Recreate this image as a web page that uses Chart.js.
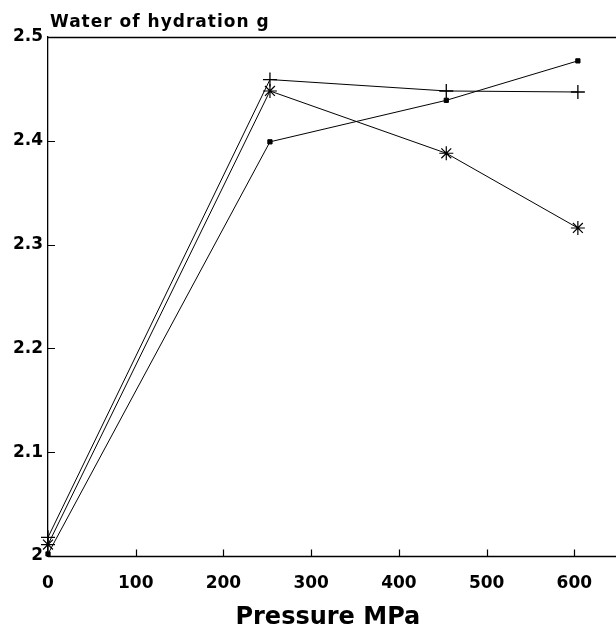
<!DOCTYPE html>
<html>
<head>
<meta charset="utf-8">
<script src="https://cdn.jsdelivr.net/npm/chart.js@4.4.1/dist/chart.umd.min.js"></script>
<style>
  html, body { margin: 0; padding: 0; background: #fff; }
  #wrap { width: 616px; height: 634px; }
</style>
</head>
<body>
<div id="wrap"><canvas id="hydrationChart" width="616" height="634"></canvas></div>
<script>
// Data
const pressure = [0, 253, 454, 604];          // MPa
const seriesCross = [2.018, 2.459, 2.448, 2.447]; // '+' markers
const seriesStar = [2.011, 2.448, 2.388, 2.316];  // asterisk markers
const seriesSquare = [2.002, 2.399, 2.439, 2.477]; // small square markers

const xTicks = [0, 100, 200, 300, 400, 500, 600];
const yTicks = [2, 2.1, 2.2, 2.3, 2.4, 2.5];

const FONT = 'DejaVu Sans';

function toPoints(xs, ys) {
    return xs.map((x, i) => ({ x: x, y: ys[i] }));
}

// inner tick marks, frame lines running to the canvas edge, y axis caption
const frameTicks = {
    id: 'frameTicks',
    beforeDatasetsDraw(chart) {
        const ctx = chart.ctx;
        const area = chart.chartArea;
        const xs = chart.scales.x;
        const ys = chart.scales.y;
        ctx.save();
        ctx.strokeStyle = '#000';
        ctx.lineWidth = 1.3;
        ctx.beginPath();
        const yTop = Math.round(ys.getPixelForValue(2.5)) + 0.5;
        ctx.moveTo(area.left, yTop);
        ctx.lineTo(chart.width, yTop);
        const yBot = Math.round(ys.getPixelForValue(2)) + 0.5;
        ctx.moveTo(area.left, yBot);
        ctx.lineTo(chart.width, yBot);
        ctx.stroke();

        ctx.lineWidth = 1.2;
        ctx.beginPath();
        xTicks.forEach(v => {
            if (v === 0) return;
            const px = Math.round(xs.getPixelForValue(v)) + 0.5;
            ctx.moveTo(px, yBot);
            ctx.lineTo(px, yBot - 7);
        });
        yTicks.forEach(v => {
            if (v === 2 || v === 2.5) return;
            const py = Math.round(ys.getPixelForValue(v)) + 0.5;
            ctx.moveTo(area.left, py);
            ctx.lineTo(area.left + 7, py);
        });
        ctx.stroke();

        ctx.fillStyle = '#000';
        ctx.font = 'bold 17px "' + FONT + '"';
        ctx.letterSpacing = '1px';
        ctx.textBaseline = 'alphabetic';
        ctx.textAlign = 'left';
        ctx.fillText('Water of hydration g', area.left + 2, area.top - 10);
        ctx.restore();
    }
};

const lineStyle = {
    borderColor: '#000',
    backgroundColor: '#000',
    pointBorderColor: '#000',
    pointBackgroundColor: '#000',
    borderWidth: 1,
    tension: 0,
    fill: false,
    clip: false
};

new Chart(document.getElementById('hydrationChart'), {
    type: 'line',
    data: {
        datasets: [
            Object.assign({
                label: 'cross',
                data: toPoints(pressure, seriesCross),
                pointStyle: 'cross',
                pointRadius: 7,
                pointBorderWidth: 1.3
            }, lineStyle),
            Object.assign({
                label: 'star',
                data: toPoints(pressure, seriesStar),
                pointStyle: 'star',
                pointRadius: 7,
                pointBorderWidth: 1.2
            }, lineStyle),
            Object.assign({
                label: 'square',
                data: toPoints(pressure, seriesSquare),
                pointStyle: 'rect',
                pointRadius: 3,
                pointBorderWidth: 1
            }, lineStyle)
        ]
    },
    options: {
        responsive: false,
        animation: false,
        devicePixelRatio: 1,
        layout: { padding: { top: 37, left: 0, right: 0, bottom: 0 } },
        plugins: {
            legend: { display: false },
            tooltip: { enabled: false }
        },
        scales: {
            x: {
                type: 'linear',
                min: 0,
                max: 638,
                afterFit: s => { s.height = 78; s.paddingLeft = 0; s.paddingRight = 0; },
                afterBuildTicks: s => { s.ticks = xTicks.map(v => ({ value: v })); },
                ticks: {
                    includeBounds: false,
                    color: '#000',
                    padding: 17,
                    maxRotation: 0,
                    font: { family: FONT, weight: 'bold', size: 17 }
                },
                grid: { display: false, drawTicks: false },
                border: { display: false },
                title: {
                    display: true,
                    text: 'Pressure MPa',
                    color: '#000',
                    font: { family: FONT, weight: 'bold', size: 24 },
                    padding: { top: 0, bottom: 2 }
                }
            },
            y: {
                type: 'linear',
                min: 2,
                max: 2.5,
                afterFit: s => { s.width = 48; },
                afterBuildTicks: s => { s.ticks = yTicks.map(v => ({ value: v })); },
                ticks: {
                    color: '#000',
                    padding: 5,
                    font: { family: FONT, weight: 'bold', size: 17 },
                    callback: v => (v === 2 ? '2' : v.toFixed(1))
                },
                grid: { display: false, drawTicks: false },
                border: { display: true, color: '#000', width: 1.3 }
            }
        }
    },
    plugins: [frameTicks]
});
</script>
</body>
</html>
